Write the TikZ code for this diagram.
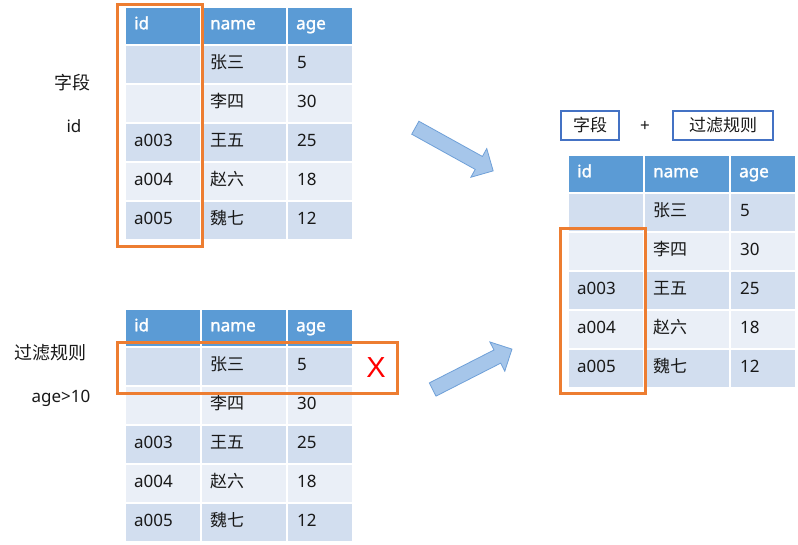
\documentclass[tikz,border=0pt]{standalone}
\usepackage{fontspec}
\setmainfont{Noto Sans}
\newfontfamily\cjk{Noto Sans CJK SC}
\newfontfamily\xfont{Liberation Sans}
\newfontfamily\hfont{Noto Sans}[FakeBold=1.6]
\usetikzlibrary{shapes.arrows}
\definecolor{hdr}{HTML}{5B9BD5}
\definecolor{rowA}{HTML}{D2DEEF}
\definecolor{rowB}{HTML}{EAEFF7}
\definecolor{orng}{HTML}{ED7D31}
\definecolor{boxb}{HTML}{4472C4}
\definecolor{arrF}{HTML}{A6C6EA}
\definecolor{arrD}{HTML}{6FA0D8}
\tikzset{
  cellbox/.style={draw=white, line width=1.5pt, anchor=north west, inner sep=0pt},
  txt/.style={anchor=west, inner sep=0pt, text height=13pt, text depth=4pt, font=\fontsize{17}{20}\selectfont, text=black!90},
  ctxt/.style={txt, font=\cjk\fontsize{17}{20}\selectfont},
  htxt/.style={txt, font=\hfont\fontsize{17}{20}\selectfont, text=white},
  lbl/.style={inner sep=0pt, font=\cjk\fontsize{18}{20}\selectfont, text=black!90},
  llbl/.style={inner sep=0pt, font=\fontsize{17}{20}\selectfont, text=black!90},
  obox/.style={draw=orng, line width=3pt, inner sep=0pt},
  bbox/.style={draw=boxb, line width=1.1pt, inner sep=0pt, minimum height=29pt, font=\cjk\fontsize{17}{20}\selectfont, text=black!90},
  bigarrow/.style={single arrow, draw=arrD, fill=arrF, line width=0.8pt, inner sep=7pt,
     single arrow head extend=9pt, single arrow tip angle=90, minimum height=89pt},
}
\newcommand{\datatable}[3]{%
  \begin{scope}[shift={(#1,#2)}]
    \foreach \cc/\cx/\cw/\hd in {1/0/76/id,2/76/86/name,3/162/66/age}{
      \node[cellbox, fill=hdr, minimum width=\cw pt, minimum height=38pt] (#3h\cc) at (\cx,0) {};
      \node[htxt] (#3ht\cc) at ([xshift=10pt,yshift=1pt]#3h\cc.west) {\hd};
    }
    \foreach \r/\fc/\idv/\nm/\ag in {1/rowA//张三/5, 2/rowB//李四/30, 3/rowA/a003/王五/25, 4/rowB/a004/赵六/18, 5/rowA/a005/魏七/12}{
      \pgfmathsetmacro\ry{38+(\r-1)*39}
      \node[cellbox, fill=\fc, minimum width=76pt, minimum height=39pt] (#3r\r c1) at (0,\ry) {};
      \node[cellbox, fill=\fc, minimum width=86pt, minimum height=39pt] (#3r\r c2) at (76,\ry) {};
      \node[cellbox, fill=\fc, minimum width=66pt, minimum height=39pt] (#3r\r c3) at (162,\ry) {};
      \node[txt] (#3r\r t1) at ([xshift=10pt]#3r\r c1.west) {\idv};
      \node[ctxt] (#3r\r t2) at ([xshift=10pt]#3r\r c2.west) {\nm};
      \node[txt] (#3r\r t3) at ([xshift=11pt]#3r\r c3.west) {\ag};
    }
  \end{scope}}
\begin{document}
\begin{tikzpicture}[x=1pt, y=-1pt]
  \useasboundingbox (0,0) rectangle (798,544);
  \fill[white] (0,0) rectangle (798,544);
  % tables
  \datatable{124}{6}{A}
  \datatable{124}{308}{B}
  \datatable{567}{154}{C}
  % left labels
  \node[lbl] (l1) at (72,83) {字段};
  \node[llbl] (l2) at (74,126) {id};
  \node[lbl] (l3) at (50,353) {过滤规则};
  \node[llbl] (l4) at (61,398) {age>10};
  % orange selections
  \node[obox, minimum width=85pt, minimum height=242pt] (s1) at (159.5,125) {};
  \node[obox, minimum width=280pt, minimum height=51pt] (s2) at (257,367.5) {};
  \node[obox, minimum width=85pt, minimum height=165pt] (s3) at (602.5,310.5) {};
  \node[text=red, inner sep=0pt, font=\xfont\fontsize{29}{30}\selectfont] (xm) at (376,368) {X};
  % arrows
  \node[bigarrow, rotate=-29] (a1) at (451,147.5) {};
  \node[bigarrow, rotate=27] (a2) at (469,371) {};
  % top right boxes
  \node[bbox, minimum width=58pt] (b1) at (590,125.5) {字段};
  \node[llbl] (plus) at (645,126) {+};
  \node[bbox, minimum width=100pt] (b2) at (723,125.5) {过滤规则};
\end{tikzpicture}
\end{document}
